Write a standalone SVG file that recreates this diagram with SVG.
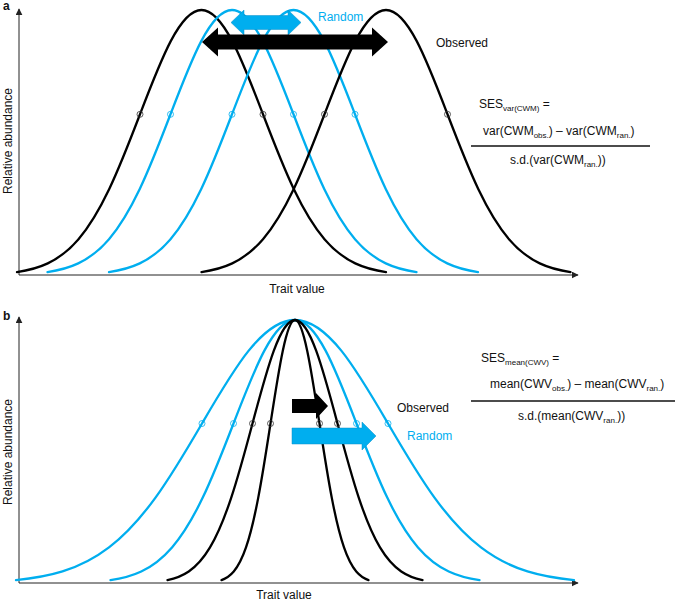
<svg xmlns="http://www.w3.org/2000/svg" width="685" height="601" viewBox="0 0 685 601">
<style>
text{font-family:"Liberation Sans",Arial,sans-serif;font-size:12px;fill:#111}
.lbl{font-weight:bold;font-size:12px}
.blue{fill:#00aeef}
.sub{font-size:8px}
.crvk{fill:none;stroke:#000;stroke-width:2.3;stroke-linecap:round}
.crvb{fill:none;stroke:#00aeef;stroke-width:2.3;stroke-linecap:round}
.ck{fill:none;stroke:#333;stroke-width:0.8}
.cb{fill:none;stroke:#00aeef;stroke-width:0.8}
.axis{stroke:#222;stroke-width:1;fill:none}
</style>
<defs>
<marker id="ah" viewBox="0 0 10 10" refX="9" refY="5" markerWidth="7" markerHeight="7" markerUnits="userSpaceOnUse" orient="auto"><path d="M0,0 L10,5 L0,10 Z" fill="#222"/></marker>
</defs>

<!-- Panel a -->
<g id="panel-a">
<text class="lbl" x="3" y="10">a</text>
<g id="axes-a">
<line class="axis" x1="19" y1="275" x2="19" y2="9" marker-end="url(#ah)"/>
<line class="axis" x1="19" y1="275" x2="578" y2="275" marker-end="url(#ah)"/>
<text x="297" y="293" text-anchor="middle">Trait value</text>
<text transform="translate(12,141) rotate(-90)" text-anchor="middle">Relative abundance</text>
</g>
<g id="curves-a">
<path class="crvk" vector-effect="non-scaling-stroke" transform="translate(201.5,275) scale(61.5,265)" d="M-3,-0.011109 C-2.8333,-0.016664 -2.6667,-0.025630 -2.5,-0.043937 C-2.3333,-0.062244 -2.1667,-0.090223 -2,-0.135335 C-1.8333,-0.180447 -1.6667,-0.243489 -1.5,-0.324652 C-1.3333,-0.405815 -1.1667,-0.505442 -1,-0.606531 C-0.8333,-0.707620 -0.6667,-0.808956 -0.5,-0.882497 C-0.3333,-0.956038 -0.1667,-1 0,-1 C0.1667,-1 0.3333,-0.956038 0.5,-0.882497 C0.6667,-0.808956 0.8333,-0.707620 1,-0.606531 C1.1667,-0.505442 1.3333,-0.405815 1.5,-0.324652 C1.6667,-0.243489 1.8333,-0.180447 2,-0.135335 C2.1667,-0.090223 2.3333,-0.062244 2.5,-0.043937 C2.6667,-0.025630 2.8333,-0.016664 3,-0.011109"/>
<path class="crvb" vector-effect="non-scaling-stroke" transform="translate(232,275) scale(61.5,265)" d="M-3,-0.011109 C-2.8333,-0.016664 -2.6667,-0.025630 -2.5,-0.043937 C-2.3333,-0.062244 -2.1667,-0.090223 -2,-0.135335 C-1.8333,-0.180447 -1.6667,-0.243489 -1.5,-0.324652 C-1.3333,-0.405815 -1.1667,-0.505442 -1,-0.606531 C-0.8333,-0.707620 -0.6667,-0.808956 -0.5,-0.882497 C-0.3333,-0.956038 -0.1667,-1 0,-1 C0.1667,-1 0.3333,-0.956038 0.5,-0.882497 C0.6667,-0.808956 0.8333,-0.707620 1,-0.606531 C1.1667,-0.505442 1.3333,-0.405815 1.5,-0.324652 C1.6667,-0.243489 1.8333,-0.180447 2,-0.135335 C2.1667,-0.090223 2.3333,-0.062244 2.5,-0.043937 C2.6667,-0.025630 2.8333,-0.016664 3,-0.011109"/>
<path class="crvb" vector-effect="non-scaling-stroke" transform="translate(293.5,275) scale(61.5,265)" d="M-3,-0.011109 C-2.8333,-0.016664 -2.6667,-0.025630 -2.5,-0.043937 C-2.3333,-0.062244 -2.1667,-0.090223 -2,-0.135335 C-1.8333,-0.180447 -1.6667,-0.243489 -1.5,-0.324652 C-1.3333,-0.405815 -1.1667,-0.505442 -1,-0.606531 C-0.8333,-0.707620 -0.6667,-0.808956 -0.5,-0.882497 C-0.3333,-0.956038 -0.1667,-1 0,-1 C0.1667,-1 0.3333,-0.956038 0.5,-0.882497 C0.6667,-0.808956 0.8333,-0.707620 1,-0.606531 C1.1667,-0.505442 1.3333,-0.405815 1.5,-0.324652 C1.6667,-0.243489 1.8333,-0.180447 2,-0.135335 C2.1667,-0.090223 2.3333,-0.062244 2.5,-0.043937 C2.6667,-0.025630 2.8333,-0.016664 3,-0.011109"/>
<path class="crvk" vector-effect="non-scaling-stroke" transform="translate(386,275) scale(61.5,265)" d="M-3,-0.011109 C-2.8333,-0.016664 -2.6667,-0.025630 -2.5,-0.043937 C-2.3333,-0.062244 -2.1667,-0.090223 -2,-0.135335 C-1.8333,-0.180447 -1.6667,-0.243489 -1.5,-0.324652 C-1.3333,-0.405815 -1.1667,-0.505442 -1,-0.606531 C-0.8333,-0.707620 -0.6667,-0.808956 -0.5,-0.882497 C-0.3333,-0.956038 -0.1667,-1 0,-1 C0.1667,-1 0.3333,-0.956038 0.5,-0.882497 C0.6667,-0.808956 0.8333,-0.707620 1,-0.606531 C1.1667,-0.505442 1.3333,-0.405815 1.5,-0.324652 C1.6667,-0.243489 1.8333,-0.180447 2,-0.135335 C2.1667,-0.090223 2.3333,-0.062244 2.5,-0.043937 C2.6667,-0.025630 2.8333,-0.016664 3,-0.011109"/>
</g>
<g id="points-a">
<circle class="ck" cx="140" cy="114.3" r="3"/>
<circle class="ck" cx="263" cy="114.3" r="3"/>
<circle class="cb" cx="170.5" cy="114.3" r="3"/>
<circle class="cb" cx="293.5" cy="114.3" r="3"/>
<circle class="cb" cx="232" cy="114.3" r="3"/>
<circle class="cb" cx="355" cy="114.3" r="3"/>
<circle class="ck" cx="324.5" cy="114.3" r="3"/>
<circle class="ck" cx="447.5" cy="114.3" r="3"/>
</g>
<g id="arrows-a">
<polygon fill="#00aeef" stroke="#0b8fc7" stroke-width="0.5" points="231,22.5 244,10 244,15.5 288,15.5 288,10 301,22.5 288,35 288,29.5 244,29.5 244,35"/>
<polygon fill="#000" points="202,42 218,27.5 218,34.5 372,34.5 372,27.5 388,42 372,56.5 372,49.5 218,49.5 218,56.5"/>
</g>
<text class="blue" x="318" y="21">Random</text>
<text x="436" y="47">Observed</text>
<g id="formula-a">
<text x="479" y="108">SES<tspan class="sub" dy="3">var(CWM)</tspan><tspan dy="-3"> =</tspan></text>
<text x="483" y="135">var(CWM<tspan class="sub" dy="3">obs.</tspan><tspan dy="-3">) – var(CWM</tspan><tspan class="sub" dy="3">ran.</tspan><tspan dy="-3">)</tspan></text>
<line x1="471" y1="146" x2="650" y2="146" stroke="#111" stroke-width="1.3"/>
<text x="510" y="164">s.d.(var(CWM<tspan class="sub" dy="3">ran.</tspan><tspan dy="-3">))</tspan></text>
</g>
</g>

<!-- Panel b -->
<g id="panel-b">
<text class="lbl" x="3" y="320">b</text>
<g id="axes-b">
<line class="axis" x1="19" y1="583" x2="19" y2="317" marker-end="url(#ah)"/>
<line class="axis" x1="19" y1="583" x2="578" y2="583" marker-end="url(#ah)"/>
<text x="284" y="599" text-anchor="middle">Trait value</text>
<text transform="translate(12,452) rotate(-90)" text-anchor="middle">Relative abundance</text>
</g>
<g id="curves-b">
<path class="crvb" vector-effect="non-scaling-stroke" transform="translate(295,583) scale(93,263)" d="M-3,-0.011109 C-2.8333,-0.016664 -2.6667,-0.025630 -2.5,-0.043937 C-2.3333,-0.062244 -2.1667,-0.090223 -2,-0.135335 C-1.8333,-0.180447 -1.6667,-0.243489 -1.5,-0.324652 C-1.3333,-0.405815 -1.1667,-0.505442 -1,-0.606531 C-0.8333,-0.707620 -0.6667,-0.808956 -0.5,-0.882497 C-0.3333,-0.956038 -0.1667,-1 0,-1 C0.1667,-1 0.3333,-0.956038 0.5,-0.882497 C0.6667,-0.808956 0.8333,-0.707620 1,-0.606531 C1.1667,-0.505442 1.3333,-0.405815 1.5,-0.324652 C1.6667,-0.243489 1.8333,-0.180447 2,-0.135335 C2.1667,-0.090223 2.3333,-0.062244 2.5,-0.043937 C2.6667,-0.025630 2.8333,-0.016664 3,-0.011109"/>
<path class="crvb" vector-effect="non-scaling-stroke" transform="translate(295,583) scale(61.5,263)" d="M-3,-0.011109 C-2.8333,-0.016664 -2.6667,-0.025630 -2.5,-0.043937 C-2.3333,-0.062244 -2.1667,-0.090223 -2,-0.135335 C-1.8333,-0.180447 -1.6667,-0.243489 -1.5,-0.324652 C-1.3333,-0.405815 -1.1667,-0.505442 -1,-0.606531 C-0.8333,-0.707620 -0.6667,-0.808956 -0.5,-0.882497 C-0.3333,-0.956038 -0.1667,-1 0,-1 C0.1667,-1 0.3333,-0.956038 0.5,-0.882497 C0.6667,-0.808956 0.8333,-0.707620 1,-0.606531 C1.1667,-0.505442 1.3333,-0.405815 1.5,-0.324652 C1.6667,-0.243489 1.8333,-0.180447 2,-0.135335 C2.1667,-0.090223 2.3333,-0.062244 2.5,-0.043937 C2.6667,-0.025630 2.8333,-0.016664 3,-0.011109"/>
<path class="crvk" vector-effect="non-scaling-stroke" transform="translate(295,583) scale(42.5,263)" d="M-3,-0.011109 C-2.8333,-0.016664 -2.6667,-0.025630 -2.5,-0.043937 C-2.3333,-0.062244 -2.1667,-0.090223 -2,-0.135335 C-1.8333,-0.180447 -1.6667,-0.243489 -1.5,-0.324652 C-1.3333,-0.405815 -1.1667,-0.505442 -1,-0.606531 C-0.8333,-0.707620 -0.6667,-0.808956 -0.5,-0.882497 C-0.3333,-0.956038 -0.1667,-1 0,-1 C0.1667,-1 0.3333,-0.956038 0.5,-0.882497 C0.6667,-0.808956 0.8333,-0.707620 1,-0.606531 C1.1667,-0.505442 1.3333,-0.405815 1.5,-0.324652 C1.6667,-0.243489 1.8333,-0.180447 2,-0.135335 C2.1667,-0.090223 2.3333,-0.062244 2.5,-0.043937 C2.6667,-0.025630 2.8333,-0.016664 3,-0.011109"/>
<path class="crvk" vector-effect="non-scaling-stroke" transform="translate(295,583) scale(24.5,263)" d="M-3,-0.011109 C-2.8333,-0.016664 -2.6667,-0.025630 -2.5,-0.043937 C-2.3333,-0.062244 -2.1667,-0.090223 -2,-0.135335 C-1.8333,-0.180447 -1.6667,-0.243489 -1.5,-0.324652 C-1.3333,-0.405815 -1.1667,-0.505442 -1,-0.606531 C-0.8333,-0.707620 -0.6667,-0.808956 -0.5,-0.882497 C-0.3333,-0.956038 -0.1667,-1 0,-1 C0.1667,-1 0.3333,-0.956038 0.5,-0.882497 C0.6667,-0.808956 0.8333,-0.707620 1,-0.606531 C1.1667,-0.505442 1.3333,-0.405815 1.5,-0.324652 C1.6667,-0.243489 1.8333,-0.180447 2,-0.135335 C2.1667,-0.090223 2.3333,-0.062244 2.5,-0.043937 C2.6667,-0.025630 2.8333,-0.016664 3,-0.011109"/>
</g>
<g id="points-b">
<circle class="cb" cx="202" cy="423.5" r="3"/>
<circle class="cb" cx="388" cy="423.5" r="3"/>
<circle class="cb" cx="233.5" cy="423.5" r="3"/>
<circle class="cb" cx="356.5" cy="423.5" r="3"/>
<circle class="ck" cx="252.5" cy="423.5" r="3"/>
<circle class="ck" cx="337.5" cy="423.5" r="3"/>
<circle class="ck" cx="270.5" cy="423.5" r="3"/>
<circle class="ck" cx="319.5" cy="423.5" r="3"/>
</g>
<g id="arrows-b">
<polygon fill="#000" points="292,399 316,399 316,393 328,406 316,419 316,413 292,413"/>
<polygon fill="#00aeef" stroke="#0b8fc7" stroke-width="0.5" points="292,428 362,428 362,422 376,436 362,450 362,444 292,444"/>
</g>
<text x="397" y="412">Observed</text>
<text class="blue" x="407" y="440">Random</text>
<g id="formula-b">
<text x="481" y="362">SES<tspan class="sub" dy="3">mean(CWV)</tspan><tspan dy="-3"> =</tspan></text>
<text x="490" y="388">mean(CWV<tspan class="sub" dy="3">obs.</tspan><tspan dy="-3">) – mean(CWV</tspan><tspan class="sub" dy="3">ran.</tspan><tspan dy="-3">)</tspan></text>
<line x1="471" y1="401" x2="675" y2="401" stroke="#111" stroke-width="1.3"/>
<text x="518" y="420">s.d.(mean(CWV<tspan class="sub" dy="3">ran.</tspan><tspan dy="-3">))</tspan></text>
</g>
</g>
</svg>
